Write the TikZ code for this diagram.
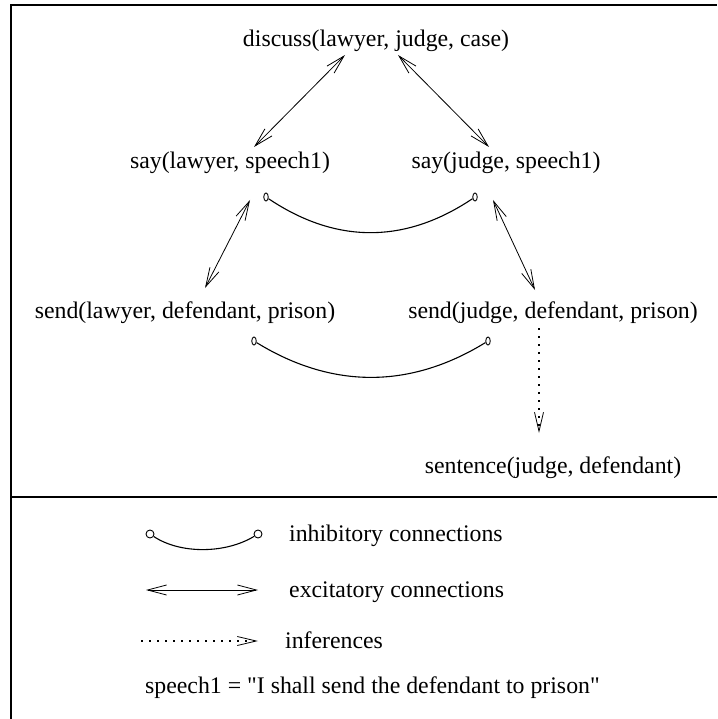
\documentclass[tikz,border=0pt]{standalone}
\usepackage{fontspec}
\setmainfont{Liberation Serif}[Ligatures=TeXOff]
\usetikzlibrary{arrows.meta,calc,shapes.geometric}
\begin{document}
\begin{tikzpicture}[x=1pt,y=-1pt,
  lbl/.style={inner sep=0pt,anchor=base,font=\fontsize{23.8}{28}\selectfont},
  legtext/.style={lbl,anchor=base west},
  frameline/.style={line width=1.6pt},
  excite/.style={line width=0.8pt,{Straight Barb[length=19pt,width=10pt]}-{Straight Barb[length=19pt,width=10pt]}},
  infer/.style={line width=1.3pt,dash pattern=on 1.8pt off 6.2pt,-{Straight Barb[length=19pt,width=9pt,line width=0.8pt]}},
  inhib/.style={line width=1.1pt},
  knob/.style={draw,line width=0.9pt,ellipse,inner sep=0pt,minimum width=4.5pt,minimum height=8pt},
  legknob/.style={draw,line width=0.9pt,circle,inner sep=0pt,minimum size=8pt}]
\useasboundingbox (0,0) rectangle (717,719);

% frame and divider
\draw[frameline] (11,719) -- (11,5) -- (717,5);
\draw[frameline] (11,497) -- (717,497);

% propositions
\node[lbl] (discuss) at (376,47) {discuss(lawyer, judge, case)};
\node[lbl] (sayL) at (230,169) {say(lawyer, speech1)};
\node[lbl] (sayJ) at (506,169) {say(judge, speech1)};
\node[lbl] (sendL) at (185,318) {send(lawyer, defendant, prison)};
\node[lbl] (sendJ) at (553,318) {send(judge, defendant, prison)};
\node[lbl] (sentence) at (553,473) {sentence(judge, defendant)};

% excitatory links
\draw[excite] ($(discuss.base)+(-31,8)$) -- ($(sayL.base)+(24,-22)$);
\draw[excite] ($(discuss.base)+(22,8)$) -- ($(sayJ.base)+(-17,-22)$);
\draw[excite] ($(sayL.base)+(20,31)$) -- ($(sendL.base)+(20,-30)$);
\draw[excite] ($(sayJ.base)+(-13,31)$) -- ($(sendJ.base)+(-18,-28)$);

% inhibitory links
\node[knob] (sayLk) at ($(sayL.base)+(36,28)$) {};
\node[knob] (sayJk) at ($(sayJ.base)+(-31,28)$) {};
\draw[inhib] (sayLk) .. controls ($(sayLk)+(70,47)$) and ($(sayJk)+(-70,47)$) .. (sayJk);
\node[knob] (sendLk) at ($(sendL.base)+(69,23)$) {};
\node[knob] (sendJk) at ($(sendJ.base)+(-65,23)$) {};
\draw[inhib] (sendLk) .. controls ($(sendLk)+(78,48)$) and ($(sendJk)+(-78,48)$) .. (sendJk);

% inference
\draw[infer] ($(sendJ.base)+(-14,10)$) -- ($(sentence.base)+(-14,-40)$);

% legend
\node[legknob] (li1) at (150,534) {};
\node[legknob] (li2) at (258,534) {};
\draw[inhib] (li1) .. controls (180,554) and (225,554) .. (li2);
\node[legtext] (inhibtext) at (289,541) {inhibitory connections};

\coordinate (le1) at (146,590);
\coordinate (le2) at (258,590);
\draw[excite] (le1) -- (le2);
\node[legtext] (excitetext) at (289,597) {excitatory connections};

\coordinate (lf1) at (141,641);
\coordinate (lf2) at (258,641);
\draw[infer] (lf1) -- (lf2);
\node[legtext] (infertext) at (285,648) {inferences};

\node[legtext] (speechnote) at (145,693) {speech1 = "I shall send the defendant to prison"};
\end{tikzpicture}
\end{document}
